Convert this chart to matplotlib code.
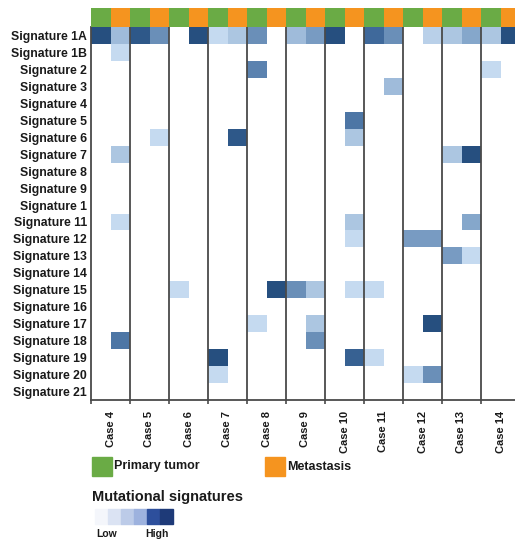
import matplotlib.pyplot as plt
import numpy as np
from matplotlib.colors import LinearSegmentedColormap, ListedColormap
from matplotlib.patches import Rectangle

plt.rcParams['font.family'] = ['Liberation Sans', 'DejaVu Sans']

signatures = ['Signature 1A', 'Signature 1B', 'Signature 2', 'Signature 3', 'Signature 4',
              'Signature 5', 'Signature 6', 'Signature 7', 'Signature 8', 'Signature 9',
              'Signature 1', 'Signature 11', 'Signature 12', 'Signature 13', 'Signature 14',
              'Signature 15', 'Signature 16', 'Signature 17', 'Signature 18', 'Signature 19',
              'Signature 20', 'Signature 21']
cases = ['Case 4', 'Case 5', 'Case 6', 'Case 7', 'Case 8', 'Case 9',
         'Case 10', 'Case 11', 'Case 12', 'Case 13', 'Case 14']
# 0 = primary tumor, 1 = metastasis, two samples per case
sample_type = [0, 1] * len(cases)

# relative contribution of each signature, columns = case 4 P, case 4 M, case 5 P, ...
contrib = [
    [.9, .4, .85, .6, 0, .9, .25, .35, .6, 0, .4, .55, .9, 0, .75, .6, 0, .3, .35, .5, .35, .9],
    [0, .25, 0, 0, 0, 0, 0, 0, 0, 0, 0, 0, 0, 0, 0, 0, 0, 0, 0, 0, 0, 0],
    [0, 0, 0, 0, 0, 0, 0, 0, .65, 0, 0, 0, 0, 0, 0, 0, 0, 0, 0, 0, .25, 0],
    [0, 0, 0, 0, 0, 0, 0, 0, 0, 0, 0, 0, 0, 0, 0, .4, 0, 0, 0, 0, 0, 0],
    [0, 0, 0, 0, 0, 0, 0, 0, 0, 0, 0, 0, 0, 0, 0, 0, 0, 0, 0, 0, 0, 0],
    [0, 0, 0, 0, 0, 0, 0, 0, 0, 0, 0, 0, 0, .7, 0, 0, 0, 0, 0, 0, 0, 0],
    [0, 0, 0, .25, 0, 0, 0, .85, 0, 0, 0, 0, 0, .35, 0, 0, 0, 0, 0, 0, 0, 0],
    [0, .35, 0, 0, 0, 0, 0, 0, 0, 0, 0, 0, 0, 0, 0, 0, 0, 0, .35, .9, 0, 0],
    [0, 0, 0, 0, 0, 0, 0, 0, 0, 0, 0, 0, 0, 0, 0, 0, 0, 0, 0, 0, 0, 0],
    [0, 0, 0, 0, 0, 0, 0, 0, 0, 0, 0, 0, 0, 0, 0, 0, 0, 0, 0, 0, 0, 0],
    [0, 0, 0, 0, 0, 0, 0, 0, 0, 0, 0, 0, 0, 0, 0, 0, 0, 0, 0, 0, 0, 0],
    [0, .25, 0, 0, 0, 0, 0, 0, 0, 0, 0, 0, 0, .35, 0, 0, 0, 0, 0, .5, 0, 0],
    [0, 0, 0, 0, 0, 0, 0, 0, 0, 0, 0, 0, 0, .25, 0, 0, .55, .55, 0, 0, 0, 0],
    [0, 0, 0, 0, 0, 0, 0, 0, 0, 0, 0, 0, 0, 0, 0, 0, 0, 0, .55, .25, 0, 0],
    [0, 0, 0, 0, 0, 0, 0, 0, 0, 0, 0, 0, 0, 0, 0, 0, 0, 0, 0, 0, 0, 0],
    [0, 0, 0, 0, .25, 0, 0, 0, 0, .9, .6, .35, 0, .25, .25, 0, 0, 0, 0, 0, 0, 0],
    [0, 0, 0, 0, 0, 0, 0, 0, 0, 0, 0, 0, 0, 0, 0, 0, 0, 0, 0, 0, 0, 0],
    [0, 0, 0, 0, 0, 0, 0, 0, .25, 0, 0, .35, 0, 0, 0, 0, 0, .9, 0, 0, 0, 0],
    [0, .7, 0, 0, 0, 0, 0, 0, 0, 0, 0, .6, 0, 0, 0, 0, 0, 0, 0, 0, 0, 0],
    [0, 0, 0, 0, 0, 0, .9, 0, 0, 0, 0, 0, 0, .8, .25, 0, 0, 0, 0, 0, 0, 0],
    [0, 0, 0, 0, 0, 0, .25, 0, 0, 0, 0, 0, 0, 0, 0, 0, .25, .6, 0, 0, 0, 0],
    [0, 0, 0, 0, 0, 0, 0, 0, 0, 0, 0, 0, 0, 0, 0, 0, 0, 0, 0, 0, 0, 0],
]
legend_steps = ['#f4f6fb', '#dbe3f3', '#bccbe8', '#9db2de', '#2d4f9c', '#1e3a78']

green, orange = '#6aab45', '#f5941f'
W, H = 515, 546


def box(x0, y0, x1, y1):
    # pixel box (top-left origin) -> figure fraction rect
    return [x0 / W, 1 - y1 / H, (x1 - x0) / W, (y1 - y0) / H]


fig = plt.figure(figsize=(W / 100, H / 100), dpi=100)

cmap = LinearSegmentedColormap.from_list(
    'sig', [(0, 'white'), (0.25, '#c5daf0'), (0.5, '#86a7cb'), (0.75, '#3f6a9c'), (1, '#163d6c')])

data = np.array(contrib)
nrow, ncol = data.shape

ax = fig.add_axes(box(91, 27, 520, 400))
ax.pcolormesh(data, cmap=cmap, vmin=0, vmax=1)
ax.set_xlim(0, ncol)
ax.set_ylim(nrow, 0)
for x in range(2, ncol + 1, 2):
    ax.axvline(x, color='#4a4a4a', lw=1.3)
for s in ['top', 'right']:
    ax.spines[s].set_visible(False)
for s in ['left', 'bottom']:
    ax.spines[s].set_color('#4a4a4a')
    ax.spines[s].set_linewidth(1.3)

ax.set_yticks(np.arange(nrow) + 0.5)
ax.set_yticklabels(signatures, fontsize=8.8, fontweight='bold', color='#1a1a1a')
ax.tick_params(axis='y', length=0, pad=3)
ax.set_xticks(np.arange(1, ncol, 2))
ax.set_xticklabels(cases, rotation=90, fontsize=8, fontweight='bold', color='#1a1a1a')
ax.tick_params(axis='x', length=0, pad=8)
ax.set_xticks(np.arange(0, ncol + 1, 2), minor=True)
ax.tick_params(axis='x', which='minor', length=3, color='#4a4a4a', width=1.2)

# sample type strip above the heatmap
ax_top = fig.add_axes(box(91, 8, 520, 27))
ax_top.pcolormesh([sample_type], cmap=ListedColormap([green, orange]), vmin=0, vmax=1)
ax_top.set_xlim(0, ncol)
ax_top.axis('off')

# legends
lg = fig.add_axes([0, 0, 1, 1])
lg.set_xlim(0, W)
lg.set_ylim(H, 0)
lg.axis('off')
lg.add_patch(Rectangle((92, 457), 20, 19, color=green))
lg.text(114, 466.5, 'Primary tumor', fontsize=9, fontweight='bold', va='center', color='#1a1a1a')
lg.add_patch(Rectangle((265, 457), 20, 19, color=orange))
lg.text(287, 466.5, 'Metastasis', fontsize=9, fontweight='bold', va='center', color='#1a1a1a')

lg.text(92, 497, 'Mutational signatures', fontsize=10.5, fontweight='bold', va='center', color='#1a1a1a')
for i, c in enumerate(legend_steps):
    lg.add_patch(Rectangle((95 + i * 13, 509), 13, 15, color=c))
lg.text(96, 534, 'Low', fontsize=7.5, fontweight='bold', va='center', color='#1a1a1a')
lg.text(145, 534, 'High', fontsize=7.5, fontweight='bold', va='center', color='#1a1a1a')

fig.savefig('out.png', dpi=100)
